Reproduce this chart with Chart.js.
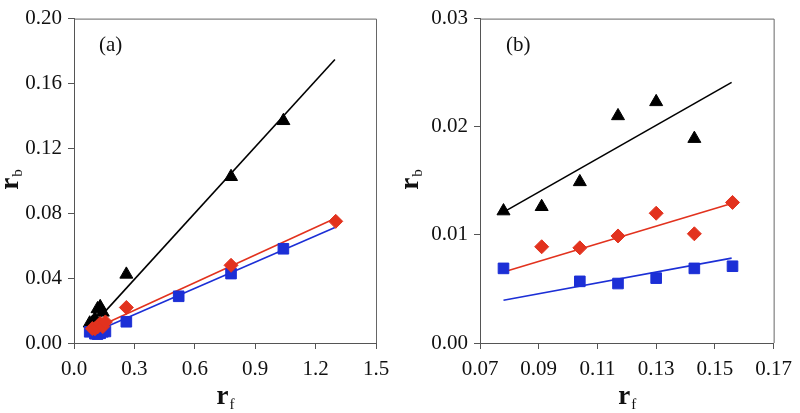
<!DOCTYPE html>
<html>
<head>
<meta charset="utf-8">
<script src="https://cdn.jsdelivr.net/npm/chart.js@4"></script>
<style>
  body { margin: 0; background: #fff; }
  .wrap { display: flex; width: 800px; height: 413px; }
  .box { position: relative; width: 400px; height: 413px; }
</style>
</head>
<body>
<div class="wrap">
  <div class="box"><canvas id="grafA"></canvas></div>
  <div class="box"><canvas id="grafB"></canvas></div>
</div>
<script>
// panel (b) - low rf region
const rfB_black = [0.078, 0.091, 0.104, 0.117, 0.130, 0.143];
const rbB_black = [0.0122, 0.0126, 0.0149, 0.0210, 0.0223, 0.0189];
const rfB_red = [0.091, 0.104, 0.117, 0.130, 0.143, 0.156];
const rbB_red = [0.0089, 0.0088, 0.0099, 0.0120, 0.0101, 0.0130];
const rfB_blue = [0.078, 0.104, 0.117, 0.130, 0.143, 0.156];
const rbB_blue = [0.0069, 0.0057, 0.0055, 0.0060, 0.0069, 0.0071];

// panel (a) - extra points at high rf (plus the ones from b)
const rfA_black = [0.26, 0.78, 1.04];
const rbA_black = [0.0423, 0.1025, 0.137];
const rfA_red = [0.26, 0.78, 1.30];
const rbA_red = [0.0219, 0.0479, 0.075];
const rfA_blue = [0.26, 0.52, 0.78, 1.04];
const rbA_blue = [0.0131, 0.0288, 0.0428, 0.0581];

// fitted lines (end points)
const fitA_x = [0.078, 1.296];
const fitA_black = [0.0090, 0.1748];
const fitA_red = [0.0075, 0.0767];
const fitA_blue = [0.0055, 0.0712];
const fitB_x = [0.078, 0.1557];
const fitB_black = [0.0121, 0.0241];
const fitB_red = [0.00656, 0.01291];
const fitB_blue = [0.00396, 0.00785];

// ticks
const xTicksA = [0, 0.3, 0.6, 0.9, 1.2, 1.5];
const yTicksA = [0, 0.04, 0.08, 0.12, 0.16, 0.20];
const xTicksB = [0.07, 0.09, 0.11, 0.13, 0.15, 0.17];
const yTicksB = [0, 0.01, 0.02, 0.03];

const PRETO = '#000000';
const VERMELHO = '#e2321e';
const AZUL = '#1c2fd6';
const fonte = '"Liberation Serif", "Times New Roman", serif';

function pontos(xs, ys) {
  return xs.map((x, i) => ({ x: x, y: ys[i] }));
}

function serie(xs, ys, cor, estilo, raio, ordem) {
  return {
    data: pontos(xs, ys),
    pointStyle: estilo,
    pointRadius: raio,
    pointBackgroundColor: cor,
    pointBorderColor: cor,
    pointBorderWidth: 1,
    showLine: false,
    order: ordem
  };
}

function reta(xs, ys, cor) {
  return {
    data: pontos(xs, ys),
    showLine: true,
    borderColor: cor,
    borderWidth: 1.6,
    pointRadius: 0,
    order: 5
  };
}

// titulos dos eixos com subscrito + moldura + rotulo do painel
function enfeites(rotulo, labelX, yCenter) {
  return {
    id: 'enfeites' + rotulo,
    afterDraw(chart) {
      const c = chart.ctx;
      const a = chart.chartArea;
      c.save();
      c.strokeStyle = '#666';
      c.lineWidth = 1;
      c.beginPath();
      c.moveTo(a.left, a.top + 0.5);
      c.lineTo(a.right + 0.5, a.top + 0.5);
      c.lineTo(a.right + 0.5, a.bottom);
      c.stroke();

      c.fillStyle = '#111';
      c.font = '21px ' + fonte;
      c.textBaseline = 'alphabetic';
      c.fillText(rotulo, labelX, 51);

      // x title
      const cx = (a.left + a.right) / 2;
      c.font = 'bold 27px ' + fonte;
      const w = c.measureText('r').width;
      c.font = '15px ' + fonte;
      const ws = c.measureText('f').width;
      let x0 = cx - (w + ws) / 2;
      c.font = 'bold 27px ' + fonte;
      c.fillText('r', x0, 404);
      c.font = '15px ' + fonte;
      c.fillText('f', x0 + w + 1, 409);

      // y title
      c.translate(18, yCenter);
      c.rotate(-Math.PI / 2);
      c.font = 'bold 27px ' + fonte;
      const w2 = c.measureText('r').width;
      c.font = '15px ' + fonte;
      const ws2 = c.measureText('b').width;
      x0 = -(w2 + ws2) / 2;
      c.font = 'bold 27px ' + fonte;
      c.fillText('r', x0, 0);
      c.font = '15px ' + fonte;
      c.fillText('b', x0 + w2 + 1, 4);
      c.restore();
    }
  };
}

function opcoes(xMin, xMax, xTicks, xDec, yMin, yMax, yTicks, yWidth) {
  const eixo = {
    border: { display: true, color: '#555', width: 1 },
    grid: { display: true, drawOnChartArea: false, drawTicks: true, tickLength: 6, tickColor: '#555' }
  };
  return {
    responsive: true,
    maintainAspectRatio: false,
    animation: false,
    layout: { padding: { top: 17, right: 24, left: 0, bottom: 0 } },
    plugins: { legend: { display: false }, tooltip: { enabled: false } },
    scales: {
      x: Object.assign({}, eixo, {
        type: 'linear',
        min: xMin, max: xMax,
        afterBuildTicks: s => { s.ticks = xTicks.map(v => ({ value: v })); },
        afterFit: s => { s.height = 70; },
        ticks: {
          color: '#111', padding: 8,
          font: { family: fonte, size: 21 },
          callback: v => v.toFixed(xDec)
        }
      }),
      y: Object.assign({}, eixo, {
        type: 'linear',
        min: yMin, max: yMax,
        afterBuildTicks: s => { s.ticks = yTicks.map(v => ({ value: v })); },
        afterFit: s => { s.width = yWidth; },
        ticks: {
          color: '#111', padding: 6,
          font: { family: fonte, size: 21 },
          callback: v => v.toFixed(2)
        }
      })
    }
  };
}

// grafico a
new Chart(document.getElementById('grafA'), {
  type: 'scatter',
  data: {
    datasets: [
      serie(rfB_red.concat(rfA_red), rbB_red.concat(rbA_red), VERMELHO, 'rectRot', 7, 1),
      serie(rfB_blue.concat(rfA_blue), rbB_blue.concat(rbA_blue), AZUL, 'rect', 7.5, 2),
      serie(rfB_black.concat(rfA_black), rbB_black.concat(rbA_black), PRETO, 'triangle', 7.5, 3),
      reta(fitA_x, fitA_red, VERMELHO),
      reta(fitA_x, fitA_blue, AZUL),
      reta(fitA_x, fitA_black, PRETO)
    ]
  },
  options: opcoes(0, 1.5, xTicksA, 1, 0, 0.2, yTicksA, 74),
  plugins: [enfeites('(a)', 99, 180)]
});

// grafico b
new Chart(document.getElementById('grafB'), {
  type: 'scatter',
  data: {
    datasets: [
      serie(rfB_red, rbB_red, VERMELHO, 'rectRot', 7, 1),
      serie(rfB_blue, rbB_blue, AZUL, 'rect', 7.5, 2),
      serie(rfB_black, rbB_black, PRETO, 'triangle', 7.5, 3),
      reta(fitB_x, fitB_red, VERMELHO),
      reta(fitB_x, fitB_blue, AZUL),
      reta(fitB_x, fitB_black, PRETO)
    ]
  },
  options: opcoes(0.07, 0.17, xTicksB, 2, 0, 0.03, yTicksB, 80),
  plugins: [enfeites('(b)', 106, 180)]
});
</script>
</body>
</html>
